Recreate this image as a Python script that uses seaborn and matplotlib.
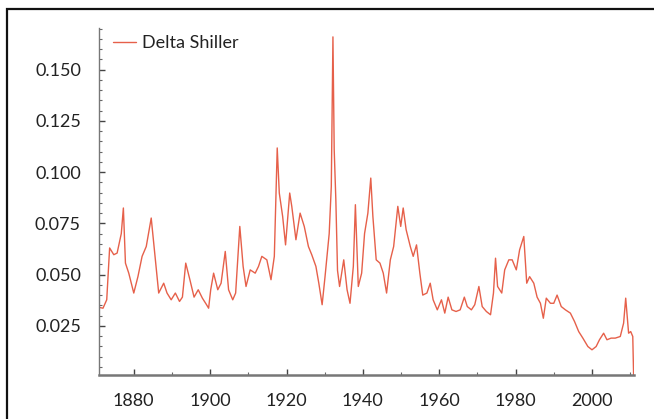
import matplotlib
matplotlib.use("Agg")
import matplotlib.pyplot as plt
from matplotlib.patches import Rectangle
from matplotlib.ticker import MultipleLocator, FixedLocator
import seaborn as sns
import pandas as pd

years = [1870.96, 1871.94, 1872.92, 1873.68, 1874.77, 1875.64, 1876.73, 1877.28, 1877.82, 1878.69,
         1880.00, 1881.09, 1882.18, 1883.27, 1884.57, 1885.66, 1886.53, 1887.84, 1888.71, 1889.80,
         1890.89, 1891.98, 1892.74, 1893.61, 1894.70, 1895.79, 1896.88, 1897.97, 1899.06, 1899.60,
         1900.15, 1900.91, 1902.00, 1902.87, 1903.96, 1904.83, 1905.92, 1906.68, 1907.77, 1908.64,
         1909.40, 1910.49, 1911.80, 1912.67, 1913.54, 1914.85, 1915.94, 1916.81, 1917.57, 1918.11,
         1918.99, 1919.75, 1920.84, 1921.38, 1922.47, 1923.56, 1924.65, 1925.74, 1926.61, 1927.70,
         1928.46, 1929.33, 1930.09, 1931.18, 1931.73, 1932.16, 1932.49, 1932.92, 1933.36, 1933.90,
         1934.99, 1935.86, 1936.63, 1937.50, 1938.04, 1938.80, 1939.68, 1940.44, 1941.31, 1942.07,
         1942.62, 1943.49, 1944.47, 1945.34, 1946.21, 1947.19, 1948.06, 1949.15, 1949.91, 1950.56,
         1951.33, 1952.42, 1953.18, 1954.05, 1954.92, 1955.68, 1956.77, 1957.64, 1958.40, 1959.49,
         1960.58, 1961.45, 1962.33, 1963.31, 1964.40, 1965.48, 1966.57, 1967.34, 1968.42, 1969.30,
         1970.38, 1971.25, 1972.34, 1973.43, 1974.20, 1974.74, 1975.28, 1976.37, 1977.14, 1978.22,
         1979.10, 1980.18, 1981.05, 1982.14, 1982.91, 1983.67, 1984.76, 1985.63, 1986.50, 1987.26,
         1988.03, 1989.12, 1989.99, 1990.86, 1991.95, 1993.04, 1994.34, 1995.43, 1996.52, 1997.61,
         1998.92, 2000.00, 2001.09, 2001.96, 2003.05, 2003.92, 2005.01, 2006.10, 2007.41, 2008.28,
         2008.83, 2009.59, 2010.14, 2010.68, 2010.90]

delta_shiller = [0.034, 0.0336, 0.0377, 0.063, 0.0597, 0.0605, 0.070, 0.0825, 0.0556, 0.0507,
                 0.041, 0.049, 0.0589, 0.0637, 0.0776, 0.0572, 0.041, 0.0458, 0.041, 0.0377,
                 0.041, 0.0369, 0.039, 0.0556, 0.0475, 0.039, 0.0426, 0.0385, 0.0353, 0.0336,
                 0.0426, 0.0507, 0.0426, 0.0458, 0.0613, 0.0426, 0.0377, 0.041, 0.0735, 0.054,
                 0.0442, 0.0523, 0.0507, 0.054, 0.0589, 0.0572, 0.0475, 0.0589, 0.1118, 0.0898,
                 0.0784, 0.0645, 0.0898, 0.0833, 0.067, 0.080, 0.0735, 0.0637, 0.0597, 0.054,
                 0.0458, 0.0353, 0.049, 0.070, 0.093, 0.166, 0.111, 0.0865, 0.052, 0.0442,
                 0.0572, 0.0426, 0.036, 0.054, 0.0841, 0.0442, 0.0507, 0.070, 0.080, 0.0971,
                 0.0784, 0.0572, 0.0556, 0.0507, 0.041, 0.0572, 0.0637, 0.0833, 0.0735, 0.0825,
                 0.0719, 0.0637, 0.0589, 0.0645, 0.0507, 0.040, 0.041, 0.0458, 0.0377, 0.0328,
                 0.0377, 0.0312, 0.039, 0.0328, 0.032, 0.0328, 0.039, 0.0344, 0.0328, 0.0353,
                 0.0442, 0.0344, 0.032, 0.0304, 0.041, 0.058, 0.0442, 0.041, 0.0523, 0.0572,
                 0.0572, 0.0523, 0.0621, 0.0686, 0.0458, 0.049, 0.0458, 0.039, 0.036, 0.0287,
                 0.0385, 0.036, 0.036, 0.040, 0.0344, 0.0328, 0.0312, 0.0271, 0.0222, 0.019,
                 0.0149, 0.0133, 0.0149, 0.0182, 0.0214, 0.0182, 0.019, 0.019, 0.0198, 0.0263,
                 0.0385, 0.0214, 0.0222, 0.0198, 0.001]

x_major = [1880, 1900, 1920, 1940, 1960, 1980, 2000]
y_major = [0.025, 0.050, 0.075, 0.100, 0.125, 0.150]

df = pd.DataFrame({"year": years, "value": delta_shiller, "series": "Delta Shiller"})

sns.set_style("ticks")
plt.rcParams["font.family"] = ["Lato", "DejaVu Sans"]

line_color = "#e6604a"

fig = plt.figure(figsize=(6.54, 4.19), dpi=100)
ax = fig.add_axes([0.1514, 0.105, 0.818, 0.828])

sns.lineplot(data=df, x="year", y="value", hue="series", palette=[line_color],
             linewidth=1.0, ax=ax, legend=True)

ax.set_xlim(1870.9, 2011.0)
ax.set_ylim(0.001, 0.1703)
ax.set_xlabel("")
ax.set_ylabel("")

ax.xaxis.set_major_locator(FixedLocator(x_major))
ax.xaxis.set_minor_locator(MultipleLocator(10))
ax.yaxis.set_major_locator(FixedLocator(y_major))
ax.yaxis.set_minor_locator(MultipleLocator(0.005))
ax.set_xticklabels([str(v) for v in x_major])
ax.set_yticklabels([f"{v:.3f}" for v in y_major])

ax.tick_params(axis="both", which="major", direction="in", length=4, width=1,
               color="#444444", labelsize=13, labelcolor="#222222")
ax.tick_params(axis="both", which="minor", direction="in", length=2.5, width=0.8, color="#666666")
ax.tick_params(axis="x", which="major", pad=13)
ax.tick_params(axis="y", which="major", pad=13)

for s in ["top", "right"]:
    ax.spines[s].set_visible(False)
ax.spines["left"].set_color("#777777")
ax.spines["left"].set_linewidth(1.0)
ax.spines["bottom"].set_color("#777777")
ax.spines["bottom"].set_linewidth(1.8)

leg = ax.legend(loc="upper left", frameon=False, fontsize=13, handlelength=1.3,
                handletextpad=0.3, borderaxespad=0.0, bbox_to_anchor=(0.012, 1.0))
for t in leg.get_texts():
    t.set_color("#222222")

fig.patches.append(Rectangle((7 / 654, -0.05), 1.2, 0.05 + (1 - 9 / 419),
                             transform=fig.transFigure, fill=False,
                             edgecolor="#111111", linewidth=1.6))

fig.savefig("out.png", dpi=100)
